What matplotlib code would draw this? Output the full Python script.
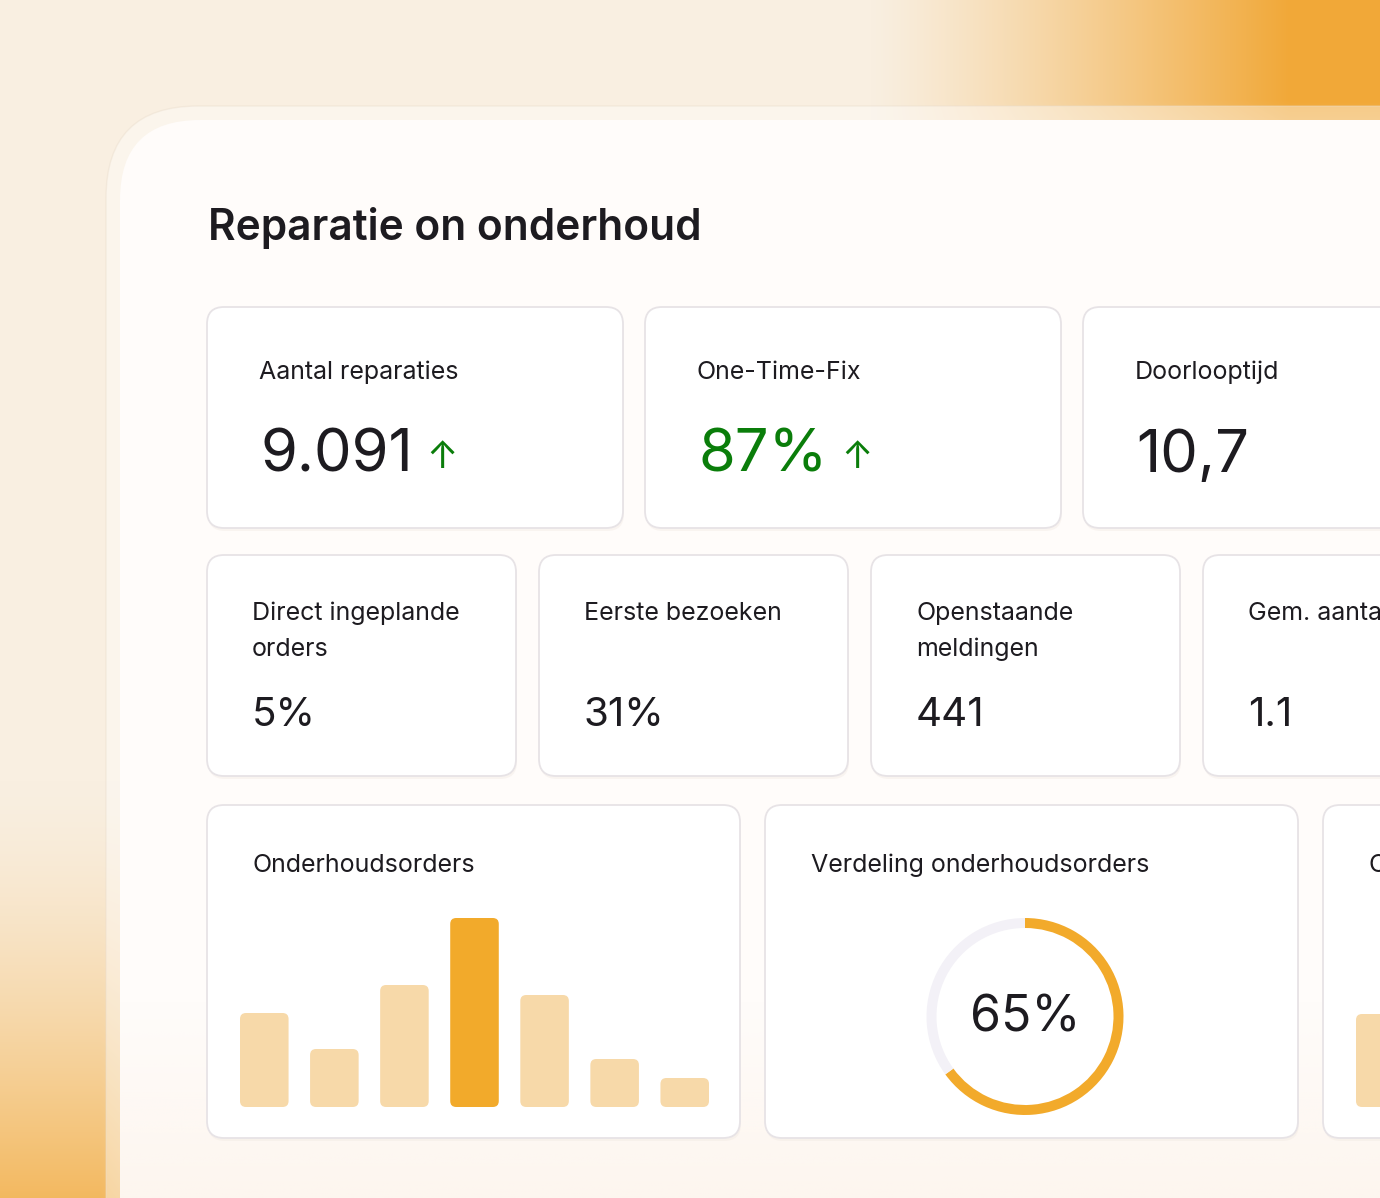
import numpy as np
import matplotlib.pyplot as plt
from matplotlib.patches import FancyBboxPatch

# ---------------- data ----------------
TITLE = "Reparatie on onderhoud"

ROW1_LABELS = ["Aantal reparaties", "One-Time-Fix", "Doorlooptijd"]
ROW1_VALUES = ["9.091", "87%", "10,7"]
ROW1_TREND_UP = [True, True, False]
ROW1_GREEN = [False, True, False]

ROW2_LABELS = ["Direct ingeplande\norders", "Eerste bezoeken",
               "Openstaande\nmeldingen", "Gem. aantal bezoeken"]
ROW2_VALUES = ["5%", "31%", "441", "1.1"]

ROW3_LABELS = ["Onderhoudsorders", "Verdeling onderhoudsorders", "Orders"]

BAR_VALUES = [94, 58, 122, 189, 112, 48, 29]
BAR_HIGHLIGHT = 3
PARTIAL_BAR_VALUES = [93]

DONUT_SHARE = 65

# ---------------- style ----------------
W, H = 1380, 1198
TEXT = "#1d1b20"
GREEN = "#0a7d0a"
ORANGE = "#f2aa2b"
ORANGE_LIGHT = "#f7d9a9"
RING_BG = "#f3f1f7"
FONT = ["Inter", "DejaVu Sans"]
LABEL_SIZE = 18

plt.rcParams["font.family"] = FONT

fig = plt.figure(figsize=(W / 100, H / 100), dpi=100)
ax = fig.add_axes([0, 0, 1, 1])
ax.set_xlim(0, W)
ax.set_ylim(H, 0)
ax.axis("off")

# background: cream with orange glow top-right and bottom-left
yy, xx = np.mgrid[0:H, 0:W]
cream = np.array([249, 239, 225]) / 255
orange = np.array([241, 168, 56]) / 255
w_tr = np.clip((xx - 870) / 420, 0, 1) ** 1.2 * np.clip((300 - yy) / 200, 0, 1)
w_bl = np.clip((yy - 780) / 430, 0, 1) ** 1.5 * np.clip((300 - xx) / 200, 0, 1)
w = np.clip(np.maximum(w_tr, w_bl * 0.8), 0, 1)[..., None]
bg = cream * (1 - w) + orange * w
ax.imshow(bg, extent=(0, W, H, 0), zorder=0, interpolation="bilinear")

# main panel: translucent bezel + inner sheet
ax.add_patch(FancyBboxPatch((106, 106), 1500, 1300,
                            boxstyle="round,pad=0,rounding_size=92",
                            fc="white", ec="#e9dccb", lw=1.0, alpha=0.4, zorder=1))
ax.add_patch(FancyBboxPatch((120, 120), 1500, 1300,
                            boxstyle="round,pad=0,rounding_size=80",
                            fc="#fffcfa", ec="none", zorder=2))
# faint warm wash toward the bottom of the panel
wash = np.linspace(0, 1, 200)[:, None, None] * np.ones((1, 10, 1))
wash_rgba = np.concatenate([np.ones((200, 10, 3)) * np.array([252, 240, 228]) / 255,
                            wash * 0.5], axis=2)
ax.imshow(wash_rgba, extent=(120, W, H, 1000), zorder=2.5, aspect="auto")


def card(x0, y0, x1, y1):
    ax.add_patch(FancyBboxPatch((x0 + 1, y0 + 3), x1 - x0, y1 - y0,
                                boxstyle="round,pad=0,rounding_size=17",
                                fc="#eee6df", ec="none", alpha=0.35, zorder=3))
    ax.add_patch(FancyBboxPatch((x0, y0), x1 - x0, y1 - y0,
                                boxstyle="round,pad=0,rounding_size=17",
                                fc="white", ec="#e7e3e6", lw=1.3, zorder=4))


def txt(x, y, s, size, color=TEXT, weight="normal", **kw):
    return ax.text(x, y, s, fontsize=size, color=color, fontweight=weight,
                   va="baseline", ha="left", zorder=6, clip_on=True, **kw)


def label(x, y, s, step=36):
    for k, line in enumerate(s.split("\n")):
        txt(x, y + k * step, line, LABEL_SIZE)


txt(208, 240, TITLE, 30.5, weight="semibold")

# row 1
row1_x = [207, 645, 1083]
for i, x0 in enumerate(row1_x):
    card(x0, 307, x0 + 416, 528)
    label(x0 + 52, 379, ROW1_LABELS[i])
    col = GREEN if ROW1_GREEN[i] else TEXT
    t = txt(x0 + 53, 472, ROW1_VALUES[i], 43, color=col)
    if ROW1_TREND_UP[i]:
        fig.canvas.draw()
        bb = t.get_window_extent().transformed(ax.transData.inverted())
        txt(bb.x1 + 14, 468, "\u2191", 27, color=GREEN)

# row 2
row2_x = [207, 539, 871, 1203]
for i, x0 in enumerate(row2_x):
    card(x0, 555, x0 + 309, 776)
    label(x0 + 45, 620, ROW2_LABELS[i])
    txt(x0 + 45, 726, ROW2_VALUES[i], 29)

# row 3
row3_x = [(207, 740), (765, 1298), (1323, 1856)]
for i, (x0, x1) in enumerate(row3_x):
    card(x0, 805, x1, 1138)
    label(x0 + 46, 872, ROW3_LABELS[i])


def px_axes(x0, y0, x1, y1):
    return fig.add_axes([x0 / W, 1 - y1 / H, (x1 - x0) / W, (y1 - y0) / H])


def rounded_bars(bax, values, colors, width, radius_px):
    x_px = bax.get_position().width * W / np.diff(bax.get_xlim())[0]
    y_px = bax.get_position().height * H / np.diff(bax.get_ylim())[0]
    rs = radius_px / x_px
    for i, v in enumerate(values):
        bax.add_patch(FancyBboxPatch((i - width / 2, 0), width, v,
                                     boxstyle=f"round,pad=0,rounding_size={rs}",
                                     mutation_aspect=x_px / y_px,
                                     fc=colors[i], ec="none"))


# bar chart
bw = 0.693
bax = px_axes(240, 907, 709, 1107)
bax.set_xlim(-bw / 2, len(BAR_VALUES) - 1 + bw / 2)
bax.set_ylim(0, 200)
bax.axis("off")
cols = [ORANGE if i == BAR_HIGHLIGHT else ORANGE_LIGHT for i in range(len(BAR_VALUES))]
rounded_bars(bax, BAR_VALUES, cols, bw, 6)

# partially visible third chart
pax = px_axes(1356, 907, 1356 + 469, 1107)
pax.set_xlim(-bw / 2, 6 + bw / 2)
pax.set_ylim(0, 200)
pax.axis("off")
rounded_bars(pax, PARTIAL_BAR_VALUES, [ORANGE_LIGHT], bw, 6)

# donut
r = 98.5
dax = px_axes(1025 - r, 1016.5 - r, 1025 + r, 1016.5 + r)
dax.pie([DONUT_SHARE, 100 - DONUT_SHARE], colors=[ORANGE, RING_BG],
        startangle=90, counterclock=False, radius=1,
        wedgeprops=dict(width=10 / r, edgecolor="none"))
dax.set_xlim(-1, 1)
dax.set_ylim(-1, 1)
dax.set_aspect("equal")
dax.text(0, -0.02, f"{DONUT_SHARE}%", fontsize=36, color=TEXT,
         ha="center", va="center")

fig.savefig("out.png", dpi=100)
